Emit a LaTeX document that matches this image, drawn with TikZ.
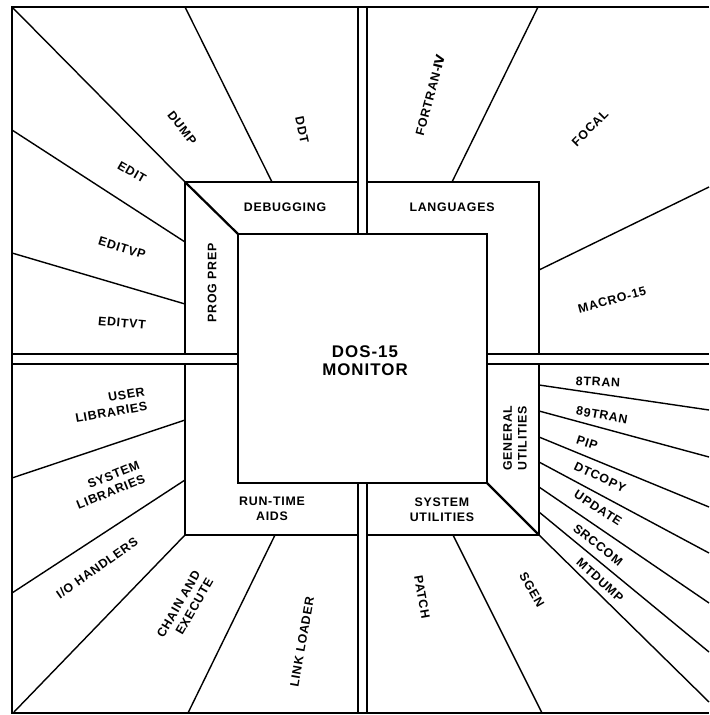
\documentclass[tikz,border=0pt]{standalone}
\usepackage{fontspec}
\setmainfont{Liberation Sans}
\newfontfamily\lblfont[LetterSpace=6]{Liberation Sans}
\newfontfamily\romfont{DejaVu Sans}
\usepackage{tikz}

\begin{document}
\begin{tikzpicture}[x=0.025cm,y=-0.025cm,
            frame/.style={line width=2.1pt},
            ring/.style={line width=1.6pt},
            spoke/.style={line width=1pt},
            lab/.style={font=\lblfont\bfseries\fontsize{8.8}{10.5}\selectfont,align=center,inner sep=0pt},
            biglab/.style={lab,font=\lblfont\bfseries\fontsize{12}{13}\selectfont}]
            \useasboundingbox (0,0) rectangle (709,715);
            \draw[frame] (709,7) -- (12,7) -- (12,713) -- (709,713);
            \draw[ring] (358,7) -- (358,234) (367,7) -- (367,234);
            \draw[ring] (358,483) -- (358,713) (367,483) -- (367,713);
            \draw[ring] (12,354) -- (238,354) (12,364) -- (238,364);
            \draw[ring] (487,354) -- (709,354) (487,364) -- (709,364);
            \draw[ring] (238,234) rectangle (487,483);
            \draw[ring] (358,182) -- (185,182) -- (185,354);
            \draw[ring] (367,182) -- (539,182) -- (539,354);
            \draw[ring] (185,364) -- (185,535) -- (358,535);
            \draw[ring] (539,364) -- (539,535) -- (367,535);
            \draw[ring] (185,182) -- (238,234);
            \draw[ring] (487,483) -- (539,535);
            \draw[spoke] (12,7) -- (185,182);
            \draw[spoke] (185,7) -- (272,182);
            \draw[spoke] (12,130) -- (185,242);
            \draw[spoke] (12,253) -- (185,304);
            \draw[spoke] (538,7) -- (452,182);
            \draw[spoke] (709,187) -- (539,270);
            \draw[spoke] (12,478) -- (185,420);
            \draw[spoke] (12,593) -- (185,480);
            \draw[spoke] (14,712) -- (185,535);
            \draw[spoke] (188,713) -- (275,535);
            \draw[spoke] (453,535) -- (542,713);
            \draw[spoke] (539,535) -- (709,702);
            \draw[spoke] (539,385) -- (709,410);
            \draw[spoke] (539,411) -- (709,457);
            \draw[spoke] (539,437) -- (709,507);
            \draw[spoke] (539,462) -- (709,553);
            \draw[spoke] (539,487) -- (709,603);
            \draw[spoke] (539,512) -- (709,652);
            \node[biglab] (monitor) at (365,361) {DOS-15\\MONITOR};
            \node[lab] (debugging) at (285,207) {DEBUGGING};
            \node[lab,rotate=90] (progprep) at (212,283) {PROG PREP};
            \node[lab] (languages) at (452,207) {LANGUAGES};
            \node[lab] (runtime) at (272,509) {RUN-TIME\\AIDS};
            \node[lab] (sysutil) at (442,510) {SYSTEM\\UTILITIES};
            \node[lab,rotate=90] (genutil) at (515,438) {GENERAL\\UTILITIES};
            \node[lab,rotate=-52] (dump) at (182,128) {DUMP};
            \node[lab,rotate=-78] (ddt) at (302,130) {DDT};
            \node[lab,rotate=-30] (edit) at (132,172) {EDIT};
            \node[lab,rotate=-17] (editvp) at (122,248) {EDITVP};
            \node[lab,rotate=-5] (editvt) at (122,323) {EDITVT};
            \node[lab,rotate=75] (fortran) at (430,95) {FORTRAN-{\romfont Ⅳ}};
            \node[lab,rotate=45] (focal) at (590,128) {FOCAL};
            \node[lab,rotate=15] (macro) at (612,300) {MACRO-15};
            \node[lab,rotate=10,align=right] (userlib) at (110,405) {USER\\LIBRARIES};
            \node[lab,rotate=22,align=right] (syslib) at (108,485) {SYSTEM\\LIBRARIES};
            \node[lab,rotate=35] (iohand) at (97,568) {I/O HANDLERS};
            \node[lab,rotate=60,align=right] (chain) at (185,608) {CHAIN AND\\EXECUTE};
            \node[lab,rotate=80] (linkld) at (302,642) {LINK LOADER};
            \node[lab,rotate=-80] (patch) at (422,597) {PATCH};
            \node[lab,rotate=-60] (sgen) at (532,590) {SGEN};
            \node[lab,rotate=-3] (eighttran) at (598,382) {8TRAN};
            \node[lab,rotate=-10] (ninetran) at (602,415) {89TRAN};
            \node[lab,rotate=-18] (pip) at (587,443) {PIP};
            \node[lab,rotate=-25] (dtcopy) at (600,477) {DTCOPY};
            \node[lab,rotate=-33] (update) at (598,508) {UPDATE};
            \node[lab,rotate=-38] (srccom) at (598,545) {SRCCOM};
            \node[lab,rotate=-42] (mtdump) at (600,580) {MTDUMP};
\end{tikzpicture}
\end{document}
